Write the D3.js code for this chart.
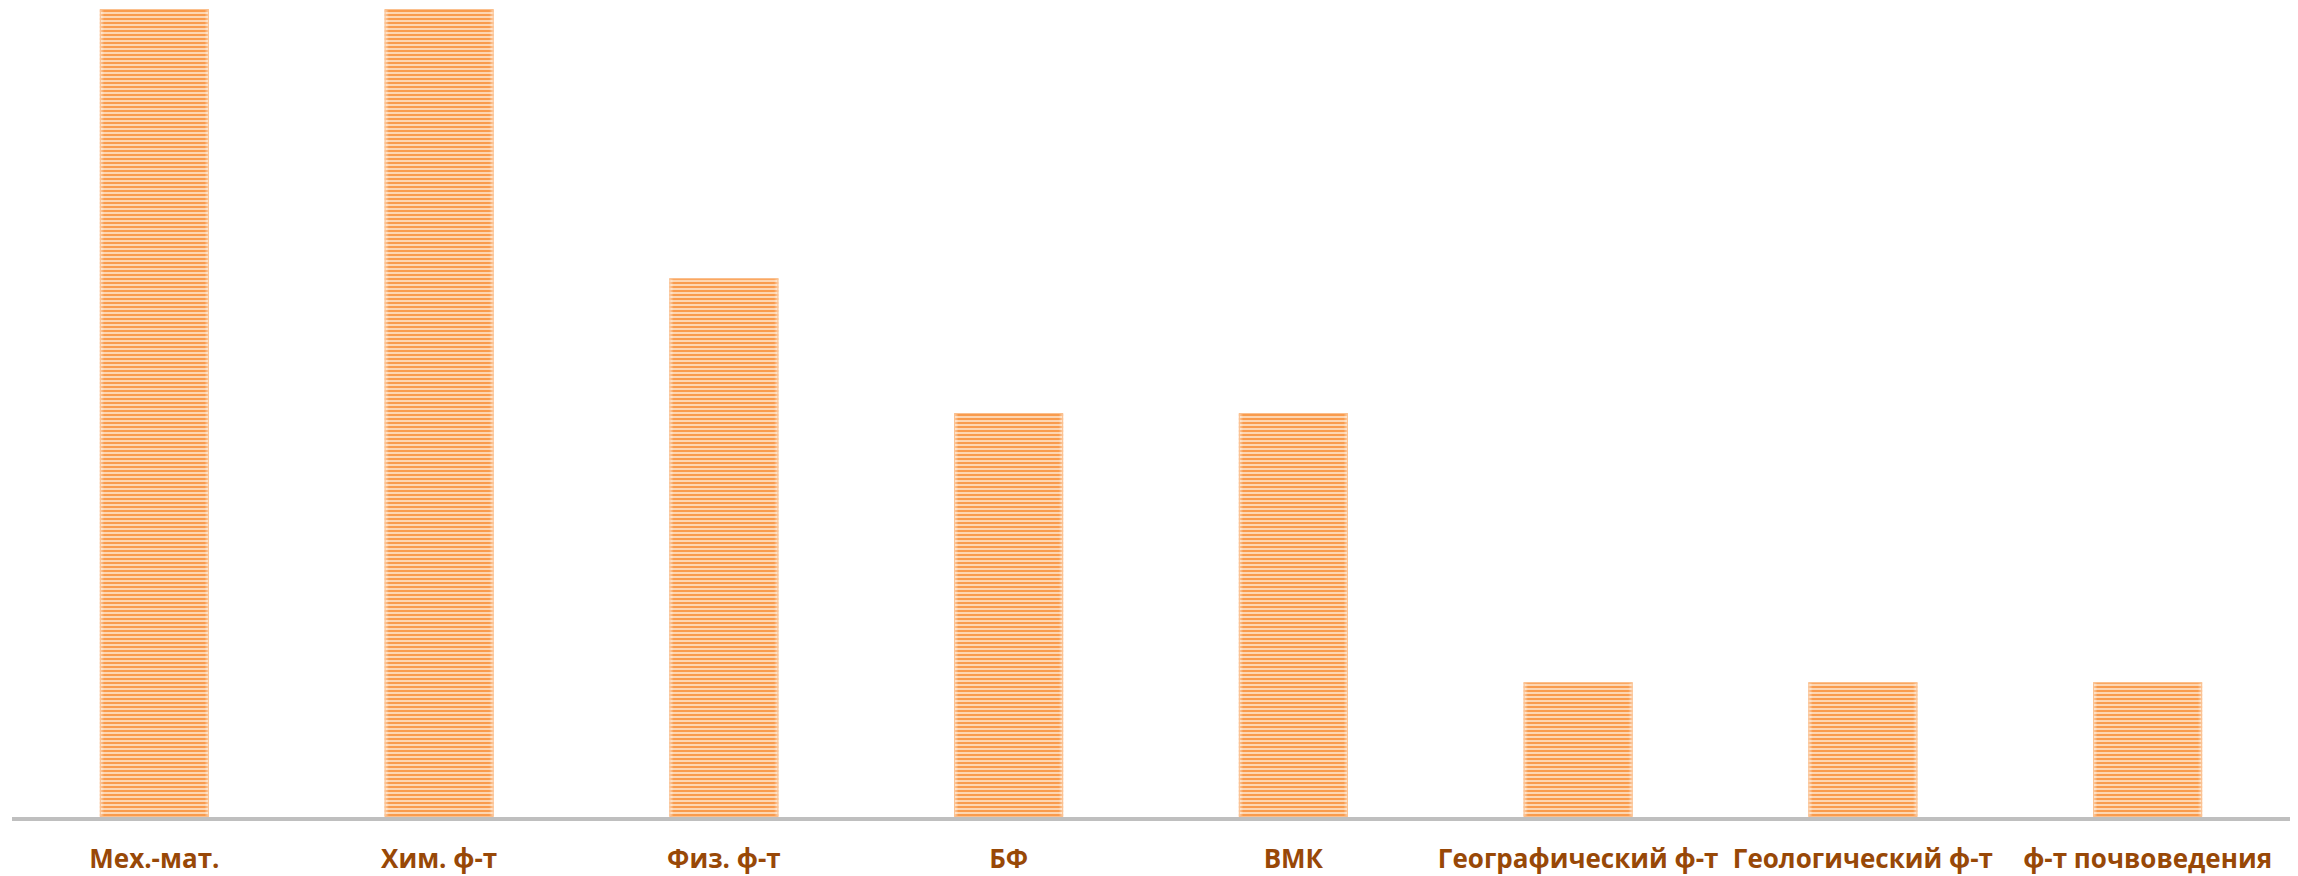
<!DOCTYPE html>
<html>
<head>
<meta charset="utf-8">
<script src="https://cdn.jsdelivr.net/npm/d3@7.9.0/dist/d3.min.js"></script>
<style>
  html, body { margin: 0; padding: 0; background: #fff; }
  svg { display: block; }
  .label { font-family: "Open Sans", Lato, sans-serif; font-weight: bold; fill: #984807; }
</style>
</head>
<body>
<svg width="2298" height="876"></svg>
<script>
const faculties = ['Мех.-мат.', 'Хим. ф-т', 'Физ. ф-т', 'БФ', 'ВМК',
  'Географический ф-т', 'Геологический ф-т', 'ф-т почвоведения'];
const counts = [6, 6, 4, 3, 3, 1, 1, 1];

const width = 2298, height = 876;
const margin = { left: 12, right: 8, top: 9, bottom: 57 };
const svg = d3.select('svg');

const x = d3.scaleBand()
  .domain(faculties)
  .range([margin.left, width - margin.right])
  .paddingInner(0.617)
  .paddingOuter(0.3085);

const y = d3.scaleLinear()
  .domain([0, 6])
  .range([height - margin.bottom - 2, margin.top]);

// striped fill like the Excel pattern
const defs = svg.append('defs');
const pat = defs.append('pattern')
  .attr('id', 'stripes')
  .attr('patternUnits', 'userSpaceOnUse')
  .attr('width', 8).attr('height', 4);
pat.append('rect').attr('width', 8).attr('height', 4).attr('fill', '#fdd6b2');
pat.append('rect').attr('y', 2).attr('width', 8).attr('height', 2).attr('fill', '#f99b4d');

// soft whitish edges on the sides
const grad = defs.append('linearGradient').attr('id', 'edge');
[[0, 0.55], [0.04, 0], [0.96, 0], [1, 0.55]].forEach(([o, a]) => {
  grad.append('stop').attr('offset', o).attr('stop-color', '#fff').attr('stop-opacity', a);
});

const bars = svg.append('g');
faculties.forEach((f, i) => {
  const bx = x(f), bw = x.bandwidth();
  const by = y(counts[i]), bh = y(0) - y(counts[i]);
  bars.append('rect')
    .attr('x', bx).attr('y', by).attr('width', bw).attr('height', bh)
    .attr('fill', 'url(#stripes)');
  bars.append('rect')
    .attr('x', bx).attr('y', by).attr('width', bw).attr('height', bh)
    .attr('fill', 'url(#edge)');
  bars.append('rect')
    .attr('x', bx + 0.5).attr('y', by + 0.5).attr('width', bw - 1).attr('height', bh - 1)
    .attr('fill', 'none').attr('stroke', '#fbc08e').attr('stroke-width', 1);
});

// axis line
svg.append('line')
  .attr('x1', margin.left).attr('x2', width - margin.right)
  .attr('y1', y(0) + 2).attr('y2', y(0) + 2)
  .attr('stroke', '#bfbfbf').attr('stroke-width', 4);

svg.append('g').selectAll('text')
  .data(faculties)
  .join('text')
  .attr('class', 'label')
  .attr('x', d => x(d) + x.bandwidth() / 2)
  .attr('y', 868)
  .attr('text-anchor', 'middle')
  .attr('font-size', 26)
  .text(d => d);
</script>
</body>
</html>
